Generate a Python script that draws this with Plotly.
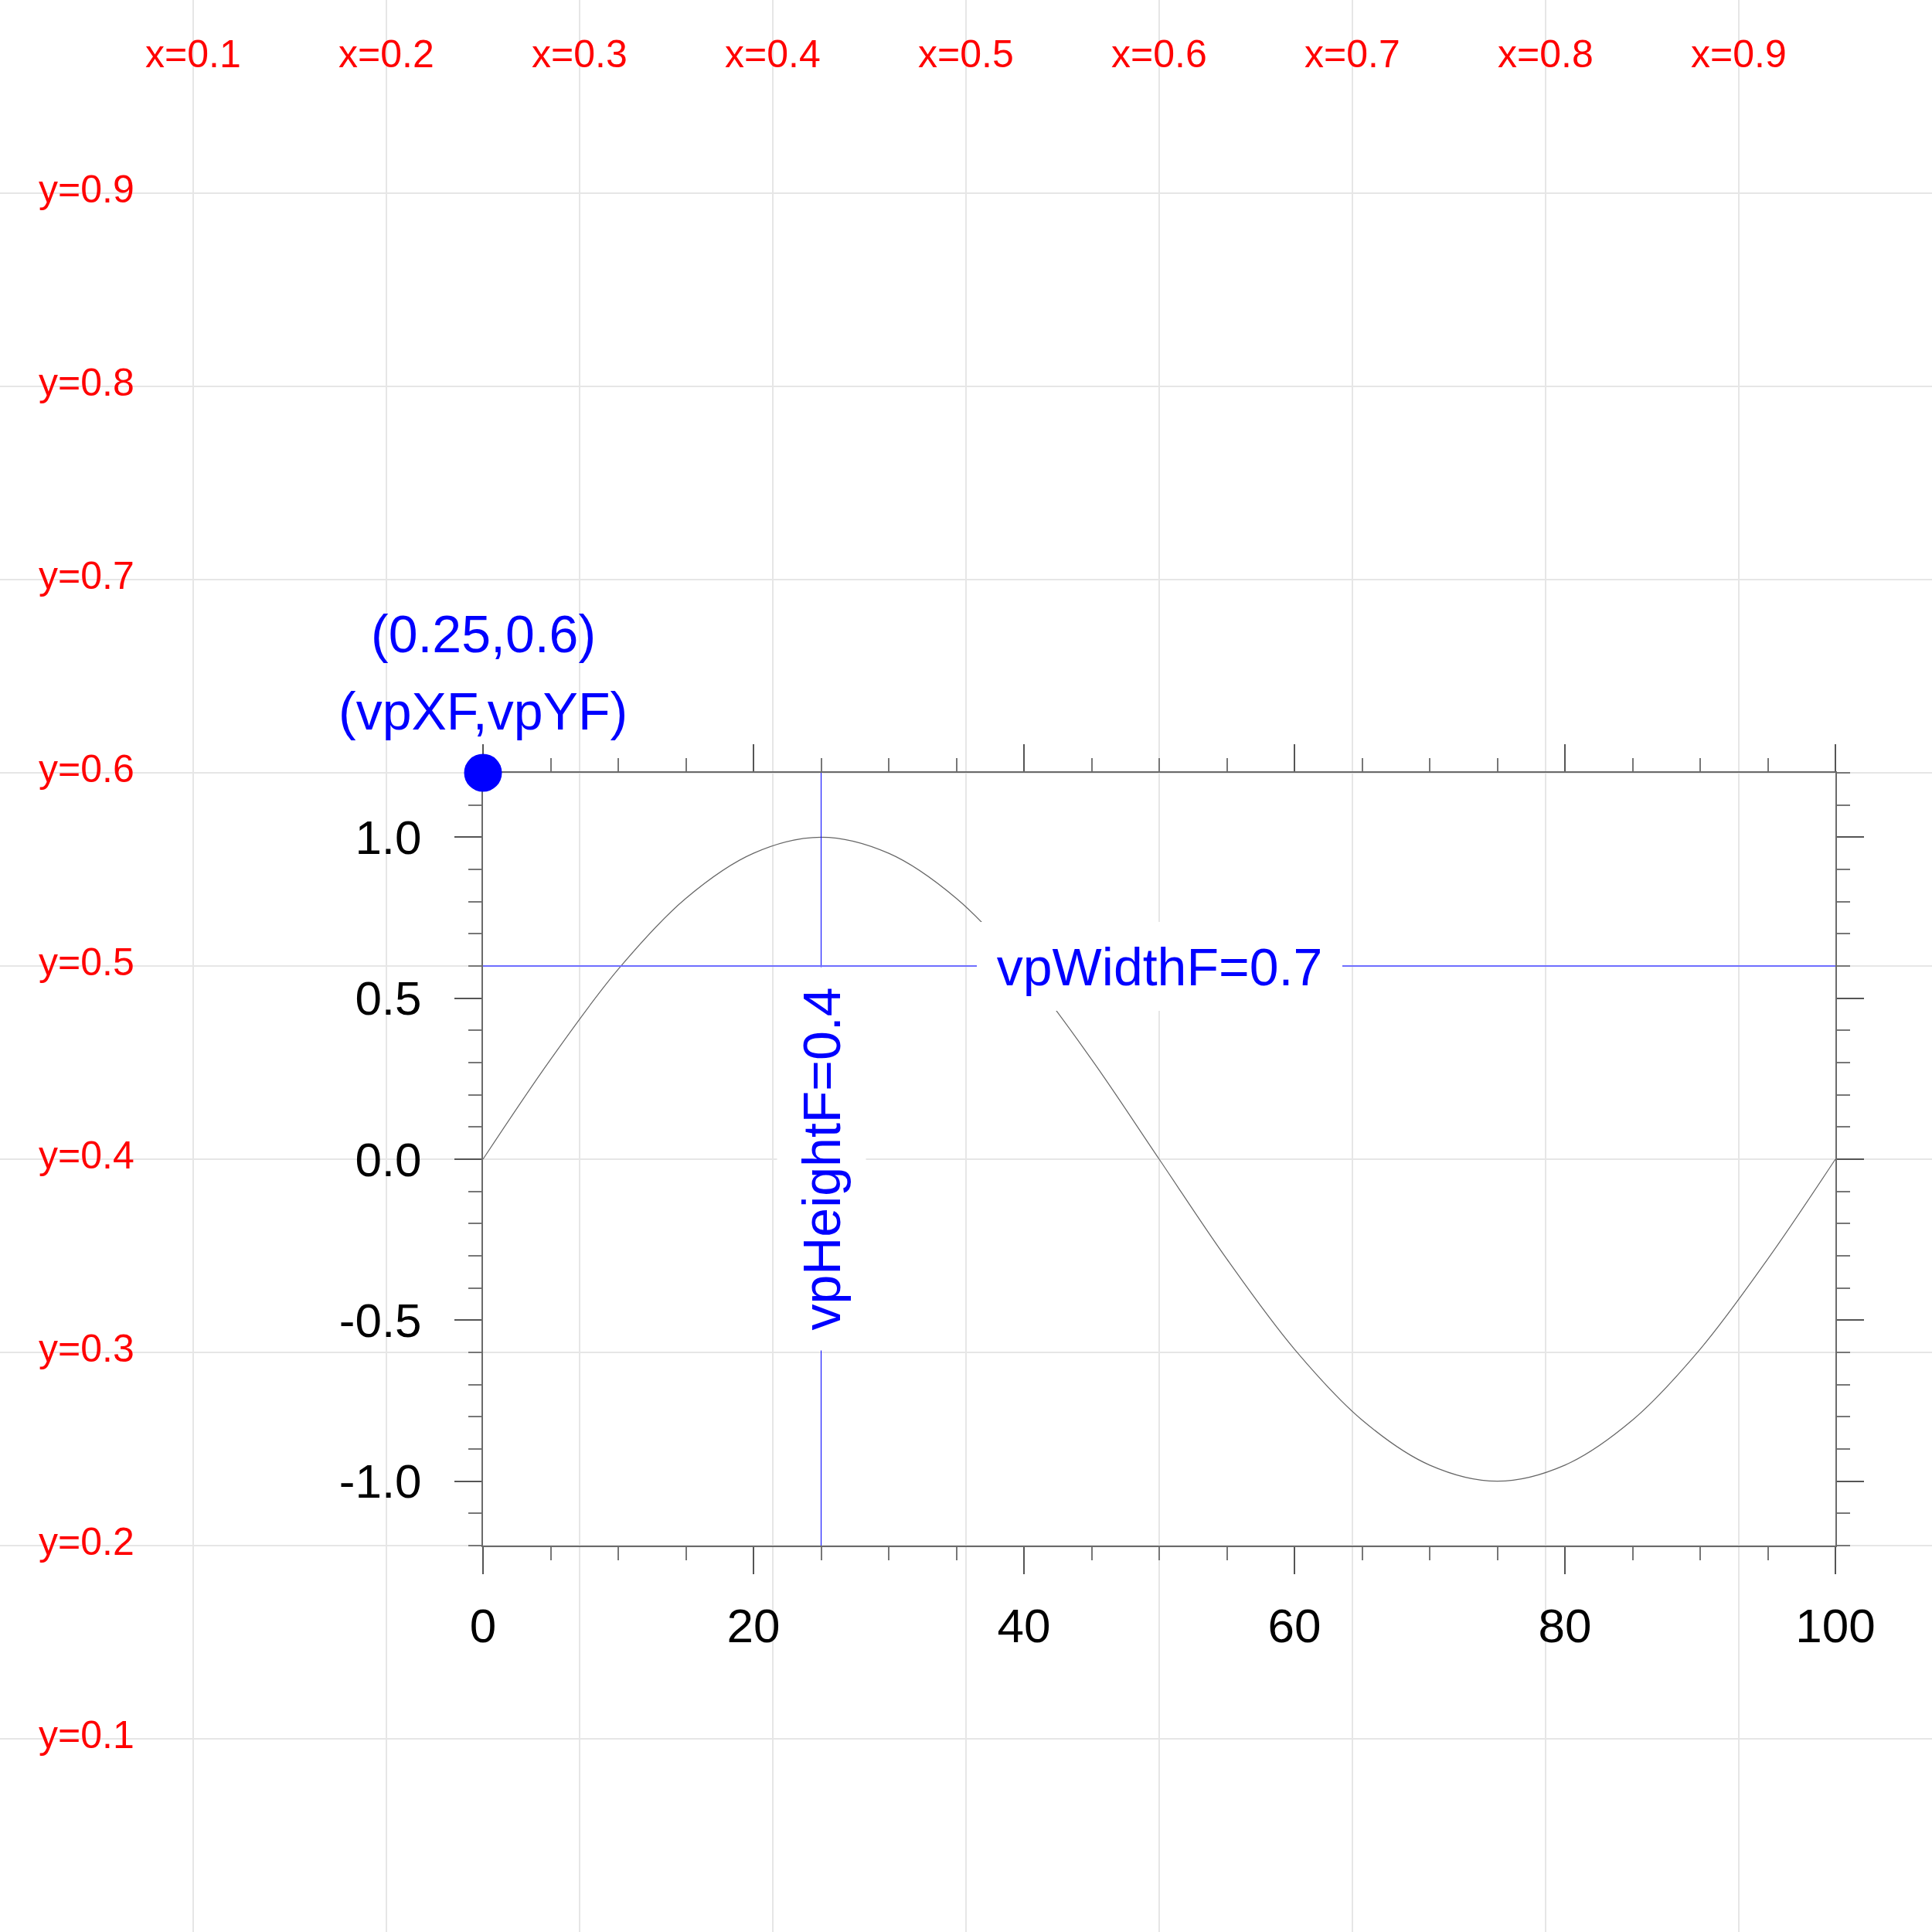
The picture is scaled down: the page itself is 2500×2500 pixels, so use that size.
import plotly.graph_objects as go

# ---- data ----
ndc_grid = [0.0, 0.1, 0.2, 0.3, 0.4, 0.5, 0.6, 0.7, 0.8, 0.9, 1.0]
ndc_label_vals = [0.1, 0.2, 0.3, 0.4, 0.5, 0.6, 0.7, 0.8, 0.9]
x_ndc_labels = ["x=0.1", "x=0.2", "x=0.3", "x=0.4", "x=0.5", "x=0.6", "x=0.7", "x=0.8", "x=0.9"]
y_ndc_labels = ["y=0.1", "y=0.2", "y=0.3", "y=0.4", "y=0.5", "y=0.6", "y=0.7", "y=0.8", "y=0.9"]

curve_x = [0, 5, 10, 15, 20, 25, 30, 35, 40, 45, 50, 55, 60, 65, 70, 75, 80, 85, 90, 95, 100]
curve_y = [0.0, 0.31, 0.59, 0.81, 0.95, 1.0, 0.95, 0.81, 0.59, 0.31, 0.0,
           -0.31, -0.59, -0.81, -0.95, -1.0, -0.95, -0.81, -0.59, -0.31, 0.0]

x_ticks = [0, 20, 40, 60, 80, 100]
x_tick_text = ["0", "20", "40", "60", "80", "100"]
y_ticks = [-1.0, -0.5, 0.0, 0.5, 1.0]
y_tick_text = ["-1.0", "-0.5", "0.0", "0.5", "1.0"]

x_range = [0, 100]
y_range = [-1.2, 1.2]

vpXF, vpYF, vpWidthF, vpHeightF = 0.25, 0.6, 0.7, 0.4
height_line_x = 25
width_line_y = 0.6

FONT = "Liberation Sans"
BLUE = "#0000ff"

fig = go.Figure()

# NDC reference subplot (first, so drawn underneath)
fig.add_trace(go.Scatter(x=[0, 1], y=[0, 1], mode="markers", marker=dict(opacity=0),
                         hoverinfo="skip", showlegend=False, xaxis="x", yaxis="y"))

# sine curve
fig.add_trace(go.Scatter(x=curve_x, y=curve_y, mode="lines",
                         line=dict(color="#666666", width=1.2, shape="spline"),
                         showlegend=False, xaxis="x2", yaxis="y2"))
# vpHeightF line
fig.add_trace(go.Scatter(x=[height_line_x, height_line_x], y=y_range, mode="lines",
                         line=dict(color=BLUE, width=1), showlegend=False,
                         xaxis="x2", yaxis="y2"))
# vpWidthF line
fig.add_trace(go.Scatter(x=x_range, y=[width_line_y, width_line_y], mode="lines",
                         line=dict(color="#6f6fff", width=2), showlegend=False,
                         xaxis="x2", yaxis="y2"))
# (vpXF, vpYF) dot
fig.add_trace(go.Scatter(x=[x_range[0]], y=[y_range[1]], mode="markers",
                         marker=dict(color=BLUE, size=49), cliponaxis=False,
                         showlegend=False, xaxis="x2", yaxis="y2"))

annotations = []
for v, t in zip(ndc_label_vals, x_ndc_labels):
    annotations.append(dict(x=v, y=0.972, xref="x", yref="y", text=t, showarrow=False,
                            xanchor="center", yanchor="middle",
                            font=dict(family=FONT, size=50, color="#ff0000")))
for v, t in zip(ndc_label_vals, y_ndc_labels):
    annotations.append(dict(x=0.019, y=v + 0.002, xref="x", yref="y", text=t, showarrow=False,
                            xanchor="left", yanchor="middle",
                            font=dict(family=FONT, size=50, color="#ff0000")))

annotations.append(dict(x=vpXF, y=0.6722, xref="x", yref="y", text="(%g,%g)" % (vpXF, vpYF),
                        showarrow=False, xanchor="center", yanchor="middle",
                        font=dict(family=FONT, size=68, color=BLUE)))
annotations.append(dict(x=vpXF, y=0.6322, xref="x", yref="y", text="(vpXF,vpYF)",
                        showarrow=False, xanchor="center", yanchor="middle",
                        font=dict(family=FONT, size=68, color=BLUE)))
annotations.append(dict(x=(x_range[0] + x_range[1]) / 2, y=width_line_y, xref="x2", yref="y2",
                        text="vpWidthF=%g" % vpWidthF, showarrow=False,
                        xanchor="center", yanchor="middle", bgcolor="white",
                        width=473, height=115, borderpad=0, borderwidth=0,
                        font=dict(family=FONT, size=68, color=BLUE)))
annotations.append(dict(x=height_line_x, y=0, xref="x2", yref="y2",
                        text="vpHeightF=%g" % vpHeightF, showarrow=False, textangle=-90,
                        xanchor="center", yanchor="middle", bgcolor="white",
                        width=496, height=115, borderpad=0, borderwidth=0,
                        font=dict(family=FONT, size=68, color=BLUE)))

ndc_axis = dict(domain=[0, 1], range=[0, 1], tickmode="array", tickvals=ndc_grid,
                showticklabels=False, ticks="", showgrid=True, gridcolor="#e6e6e6",
                gridwidth=2, zeroline=False, showline=False, fixedrange=True,
                automargin=False)

common_main = dict(ticks="outside", ticklen=35, tickwidth=2, tickcolor="#555555",
                   mirror="allticks", showline=True, linecolor="#6a6a6a", linewidth=2,
                   showgrid=False, zeroline=False, layer="below traces", automargin=False,
                   tickfont=dict(family=FONT, size=62, color="black"), fixedrange=True)

fig.update_layout(
    width=2500, height=2500, autosize=False,
    margin=dict(l=0, r=0, t=0, b=0, pad=0, autoexpand=False),
    paper_bgcolor="white", plot_bgcolor="rgba(0,0,0,0)",
    showlegend=False,
    xaxis=dict(anchor="y", **ndc_axis),
    yaxis=dict(anchor="x", **ndc_axis),
    xaxis2=dict(domain=[vpXF, vpXF + vpWidthF], range=x_range, anchor="y2",
                tickmode="array", tickvals=x_ticks, ticktext=x_tick_text,
                ticklabelstandoff=14,
                minor=dict(ticks="outside", ticklen=17, tickwidth=1.5, tickcolor="#777777",
                           tickmode="linear", tick0=0, dtick=5, showgrid=False),
                **common_main),
    yaxis2=dict(domain=[vpYF - vpHeightF, vpYF], range=y_range, anchor="x2",
                tickmode="array", tickvals=y_ticks, ticktext=y_tick_text,
                ticklabelstandoff=30,
                minor=dict(ticks="outside", ticklen=17, tickwidth=1.5, tickcolor="#777777",
                           tickmode="linear", tick0=0, dtick=0.1, showgrid=False),
                **common_main),
    annotations=annotations,
)

fig.write_html("out.html", config={"displayModeBar": False},
               post_script="document.body.style.margin='0px';")
